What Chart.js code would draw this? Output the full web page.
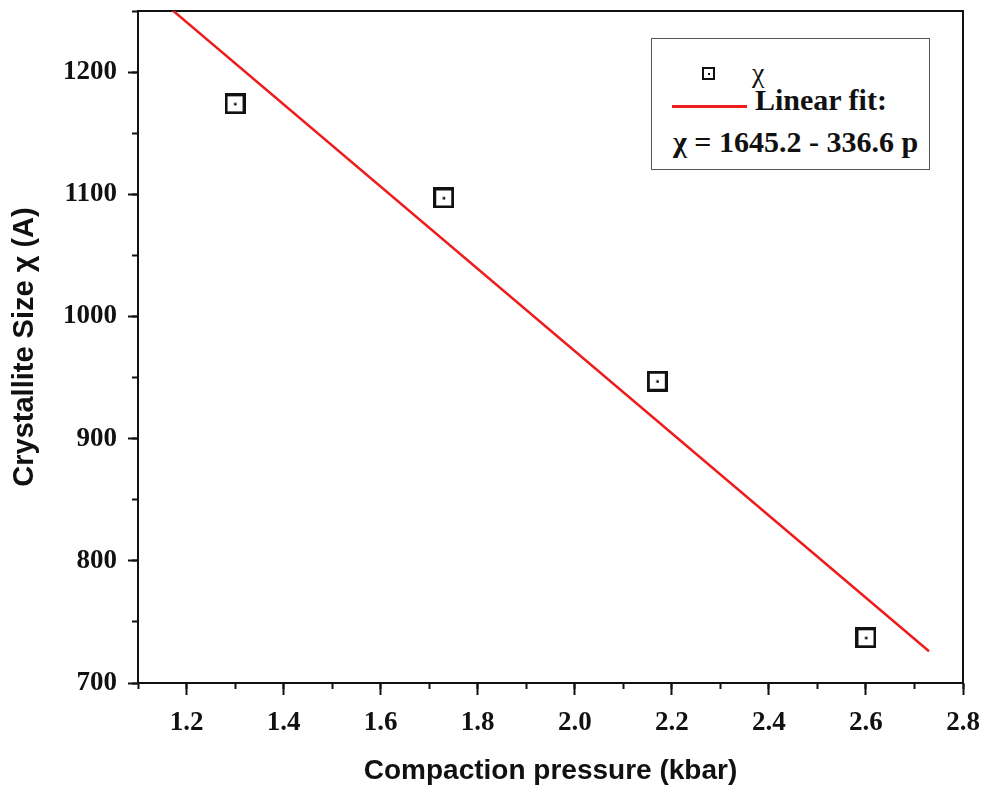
<!DOCTYPE html>
<html>
<head>
<meta charset="utf-8">
<script src="https://cdn.jsdelivr.net/npm/chart.js@4"></script>
<style>
  body { margin: 0; background: #fff; }
  #wrap { position: relative; width: 988px; height: 794px; }
  #legend {
    position: absolute; left: 651px; top: 38px; width: 277px; height: 130px;
    border: 1.5px solid #555; background: #fff;
    font-family: "Liberation Serif", "Times New Roman", serif; color: #111;
  }
  #legend span { position: absolute; white-space: nowrap; }
  .mark { width: 9px; height: 9px; border: 2px solid #111; }
  .mark::after { content: ''; position: absolute; left: 4px; top: 4px; width: 2px; height: 2px; background: #111; }
  .fit { height: 3px; background: #ee1c1c; }
  .big { font-size: 30px; line-height: 30px; font-weight: bold; }
</style>
</head>
<body>
<div id="wrap">
  <canvas id="chart"></canvas>
  <div id="legend">
    <span class="mark" style="left:50px;top:28px"></span>
    <span style="left:100px;top:20px;font-size:28px;line-height:28px">χ</span>
    <span class="fit" style="left:20px;top:66px;width:75px"></span>
    <span class="big" style="left:103px;top:46px">Linear fit:</span>
    <span class="big" style="left:21px;top:88px">χ = 1645.2 - 336.6 p</span>
  </div>
</div>
<script>
var pressure = [1.3, 1.73, 2.17, 2.6];
var crystalSize = [1174, 1097, 947, 737];
var fitPressure = [1.17, 2.73];
var fitSize = [1251, 726];
var xTickValues = [1.2, 1.4, 1.6, 1.8, 2.0, 2.2, 2.4, 2.6, 2.8];
var yTickValues = [700, 800, 900, 1000, 1100, 1200];

var X_MIN = 1.1, X_MAX = 2.8, Y_MIN = 700, Y_MAX = 1250;

function markerImage(size) {
  var c = document.createElement('canvas');
  c.width = c.height = size;
  var g = c.getContext('2d');
  g.strokeStyle = '#111';
  g.lineWidth = 3;
  g.strokeRect(1.5, 1.5, size - 3, size - 3);
  g.fillStyle = '#000';
  g.fillRect(size / 2 - 1, size / 2 - 1, 2.5, 2.5);
  return c;
}

function toPoints(xs, ys) {
  return xs.map(function(x, i) { return {x: x, y: ys[i]}; });
}

function setTicks(values) {
  return function(scale) {
    scale.ticks = values.map(function(v) { return {value: v}; });
  };
}

// no extra room for edge labels, the plot area is fixed
function fixSize(w, h) {
  return function(s) {
    if (w !== null) s.width = w;
    if (h !== null) s.height = h;
    s.paddingTop = s.paddingBottom = s.paddingLeft = s.paddingRight = 0;
  };
}

// minor tick positions every half step
var minorX = [];
for (var i = 11; i <= 28; i++) minorX.push(i / 10);
var minorY = [];
for (var j = 700; j <= 1250; j += 50) minorY.push(j);

var tickFont = {family: '"Liberation Serif", "Times New Roman", serif', size: 27, weight: 'bold'};
var titleFont = {family: '"Liberation Sans", Arial, sans-serif', size: 28, weight: 'bold'};

var frame = {
  display: true,
  ticks: {display: false},
  grid: {display: true, drawOnChartArea: false, drawTicks: false},
  border: {display: true, color: '#111', width: 2}
};

var ctx = document.getElementById('chart');
var chart = new Chart(ctx, {
  type: 'scatter',
  data: {
    datasets: [{
      label: 'χ',
      data: toPoints(pressure, crystalSize),
      pointStyle: markerImage(21),
      pointRadius: 10,
      pointHoverRadius: 10,
      order: 1
    }, {
      label: 'Linear fit',
      data: toPoints(fitPressure, fitSize),
      showLine: true,
      borderColor: '#ee1c1c',
      borderWidth: 2.5,
      pointRadius: 0,
      pointHoverRadius: 0,
      order: 2
    }]
  },
  options: {
    responsive: true,
    maintainAspectRatio: false,
    animation: false,
    events: [],
    layout: {padding: {top: 11, right: 25, left: 0, bottom: 0}},
    plugins: {legend: {display: false}, tooltip: {enabled: false}},
    scales: {
      x: {
        type: 'linear', position: 'bottom', min: X_MIN, max: X_MAX,
        afterBuildTicks: setTicks(xTickValues),
        afterFit: fixSize(null, 111),
        ticks: {
          font: tickFont, color: '#111', padding: 12, maxRotation: 0, autoSkip: false,
          callback: function(v) { return v.toFixed(1); }
        },
        grid: {drawOnChartArea: false, tickLength: 12, tickWidth: 2, tickColor: '#111'},
        border: {color: '#111', width: 2},
        title: {display: true, text: 'Compaction pressure (kbar)', font: titleFont, color: '#111', padding: {bottom: 6}}
      },
      y: {
        type: 'linear', position: 'left', min: Y_MIN, max: Y_MAX,
        afterBuildTicks: setTicks(yTickValues),
        afterFit: fixSize(138, null),
        ticks: {
          font: tickFont, color: '#111', padding: 11, autoSkip: false,
          callback: function(v) { return String(v); }
        },
        grid: {drawOnChartArea: false, tickLength: 10, tickWidth: 2, tickColor: '#111'},
        border: {color: '#111', width: 2},
        title: {display: true, text: 'Crystallite Size χ (A)', font: Object.assign({}, titleFont, {size: 29}), color: '#111', padding: {top: 8}}
      },
      xMinor: {
        type: 'linear', position: {y: Y_MIN}, min: X_MIN, max: X_MAX,
        afterBuildTicks: setTicks(minorX),
        afterFit: fixSize(null, null),
        ticks: {display: false},
        grid: {drawOnChartArea: false, tickLength: 6, tickWidth: 2, tickColor: '#111'},
        border: {display: false}
      },
      yMinor: {
        type: 'linear', position: {x: X_MIN}, min: Y_MIN, max: Y_MAX,
        afterBuildTicks: setTicks(minorY),
        afterFit: fixSize(null, null),
        ticks: {display: false},
        grid: {drawOnChartArea: false, tickLength: 6, tickWidth: 2, tickColor: '#111'},
        border: {display: false}
      },
      xTop: Object.assign({type: 'linear', position: 'top', min: X_MIN, max: X_MAX,
        afterFit: fixSize(null, 0)}, frame),
      yRight: Object.assign({type: 'linear', position: 'right', min: Y_MIN, max: Y_MAX,
        afterFit: fixSize(0, null)}, frame)
    }
  }
});
</script>
</body>
</html>
